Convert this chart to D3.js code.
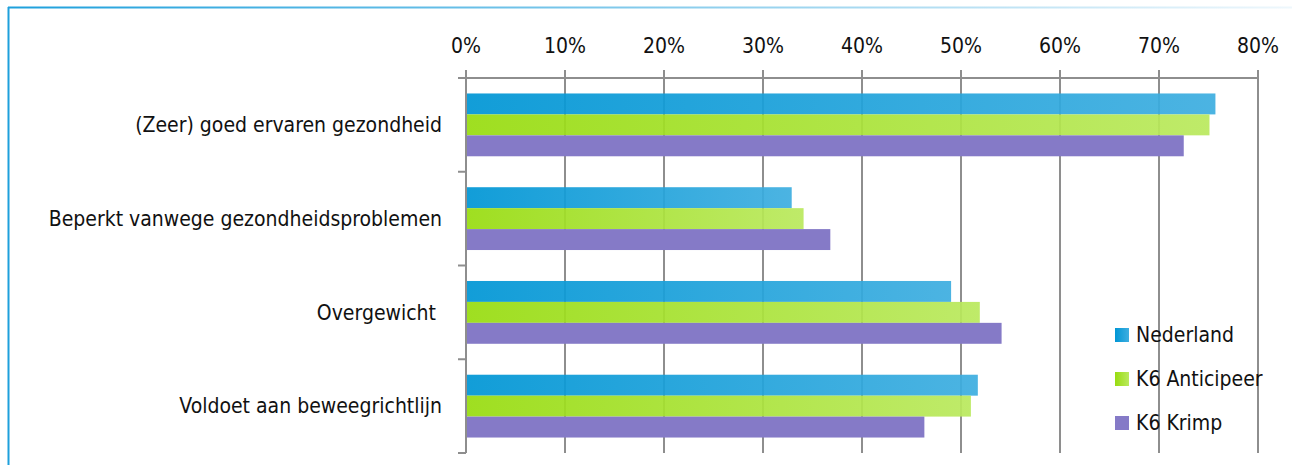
<!DOCTYPE html>
<html>
<head>
<meta charset="utf-8">
<script src="https://cdn.jsdelivr.net/npm/d3@7"></script>
<style>
	body { margin: 0; background: #ffffff; }
	svg text { font-family: "Liberation Sans Narrow", "DejaVu Sans Condensed", "Roboto", sans-serif; fill: #111111; }
</style>
</head>
<body>
<script>

// categories (top to bottom)
var categories = [
	"(Zeer) goed ervaren gezondheid",
	"Beperkt vanwege gezondheidsproblemen",
	"Overgewicht ",
	"Voldoet aan beweegrichtlijn"
];

// series names
var seriesNames = ["Nederland", "K6 Anticipeer", "K6 Krimp"];

// values in percent, one per category
var nederland = [75.7, 32.9, 49.0, 51.7];
var anticipeer = [75.1, 34.1, 51.9, 51.0];
var krimp = [72.5, 36.8, 54.1, 46.3];

// x axis ticks
var xTicks = [0, 10, 20, 30, 40, 50, 60, 70, 80];

window.onload = function() {
	drawChart();
};

function drawChart() {

	var totalWidth = 1292,
	totalHeight = 465;

	// plot area
	var margin = {top: 78, right: 34, bottom: 12, left: 466};
	var width = totalWidth - margin.left - margin.right,
	height = totalHeight - margin.top - margin.bottom;

	var svg = d3.select("body")
				.append("svg")
				.attr("width", totalWidth)
				.attr("height", totalHeight);

	var defs = svg.append("defs");

	// gradients for the bars and the frame
	function gradient(id, from, to) {
		var g = defs.append("linearGradient")
					.attr("id", id)
					.attr("x1", "0%").attr("x2", "100%")
					.attr("y1", "0%").attr("y2", "0%");
		g.append("stop").attr("offset", "0%").attr("stop-color", from);
		g.append("stop").attr("offset", "100%").attr("stop-color", to);
	}
	gradient("gBlue", "#0096d5", "#3eaee0");
	gradient("gGreen", "#98dc10", "#bae95e");
	gradient("gPurple", "#857ac7", "#857ac7");
	gradient("gFrame", "#1ea0dc", "#eef7fc");

	// frame
	svg.append("rect")
	   .attr("x", 8).attr("y", 6.5)
	   .attr("width", totalWidth - 8).attr("height", 2)
	   .attr("fill", "url(#gFrame)");
	svg.append("line")
	   .attr("x1", 8.5).attr("x2", 8.5)
	   .attr("y1", 7).attr("y2", totalHeight)
	   .attr("stroke", "#1ea0dc")
	   .attr("stroke-width", 2);

	var g = svg.append("g")
			   .attr("transform", "translate(" + margin.left + "," + margin.top + ")");

	var xScale = d3.scaleLinear()
				   .domain([0, 80])
				   .range([0, width]);

	var yScale = d3.scaleBand()
				   .domain(categories)
				   .range([0, height])
				   .paddingInner(0)
				   .paddingOuter(0);

	var inner = d3.scaleBand()
				  .domain(seriesNames)
				  .range([yScale.bandwidth() * 0.165, yScale.bandwidth() * 0.835]);

	// gridlines
	g.selectAll(".grid")
	 .data(xTicks)
	 .enter()
	 .append("line")
	 .attr("class", "grid")
	 .attr("x1", function(d){ return xScale(d); })
	 .attr("x2", function(d){ return xScale(d); })
	 .attr("y1", -8)
	 .attr("y2", height)
	 .attr("stroke", "#8e8e8e")
	 .attr("stroke-width", 2);

	// top axis line
	g.append("line")
	 .attr("x1", -8).attr("x2", width)
	 .attr("y1", 0).attr("y2", 0)
	 .attr("stroke", "#8e8e8e")
	 .attr("stroke-width", 2);

	// category ticks on the left
	var catTicks = categories.map(function(c){ return yScale(c); }).concat([height]);
	g.selectAll(".cattick")
	 .data(catTicks)
	 .enter()
	 .append("line")
	 .attr("x1", -8).attr("x2", 0)
	 .attr("y1", function(d){ return d; })
	 .attr("y2", function(d){ return d; })
	 .attr("stroke", "#8e8e8e")
	 .attr("stroke-width", 2);

	// x tick labels
	g.selectAll(".xlabel")
	 .data(xTicks)
	 .enter()
	 .append("text")
	 .attr("x", function(d){ return xScale(d); })
	 .attr("y", -25)
	 .style("text-anchor", "middle")
	 .style("font-size", "21px")
	 .text(function(d){ return d + "%"; });

	// category labels
	g.selectAll(".ylabel")
	 .data(categories)
	 .enter()
	 .append("text")
	 .attr("x", -24)
	 .attr("y", function(d){ return yScale(d) + yScale.bandwidth() / 2; })
	 .attr("dy", "0.35em")
	 .style("text-anchor", "end")
	 .style("font-size", "21px")
	 .style("white-space", "pre")
	 .text(function(d){ return d; });

	// bars
	var series = [
		{name: seriesNames[0], values: nederland, fill: "url(#gBlue)", opacity: 0.93},
		{name: seriesNames[1], values: anticipeer, fill: "url(#gGreen)", opacity: 0.93},
		{name: seriesNames[2], values: krimp, fill: "url(#gPurple)", opacity: 1}
	];

	series.forEach(function(s){
		g.selectAll(null)
		 .data(s.values)
		 .enter()
		 .append("rect")
		 .attr("x", 1)
		 .attr("y", function(d, i){ return yScale(categories[i]) + inner(s.name); })
		 .attr("width", function(d){ return xScale(d) - 1; })
		 .attr("height", inner.bandwidth())
		 .attr("fill", s.fill)
		 .attr("fill-opacity", s.opacity);
	});

	// legend
	var legend = svg.append("g")
					.attr("transform", "translate(1115, 335)");

	var legendItem = legend.selectAll("g")
						   .data(series)
						   .enter()
						   .append("g")
						   .attr("transform", function(d, i){ return "translate(0," + (i * 44) + ")"; });

	legendItem.append("rect")
			  .attr("x", 0)
			  .attr("y", -7)
			  .attr("width", 14)
			  .attr("height", 14)
			  .attr("fill", function(d){ return d.fill; });

	legendItem.append("text")
			  .attr("x", 21)
			  .attr("y", 0)
			  .attr("dy", "0.35em")
			  .style("font-size", "21px")
			  .text(function(d){ return d.name; });
}

</script>
</body>
</html>
